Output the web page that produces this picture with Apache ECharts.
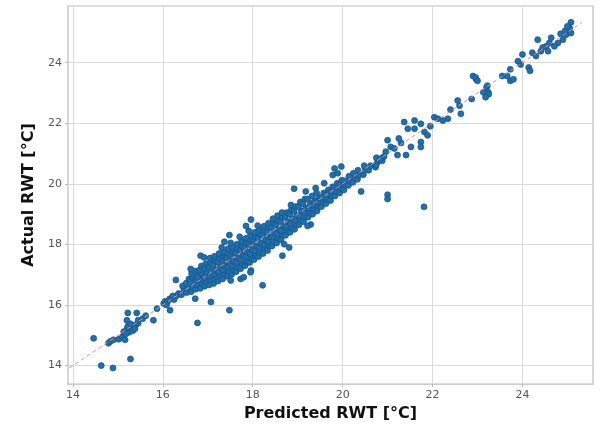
<!DOCTYPE html>
<html>
<head>
<meta charset="utf-8">
<script src="https://cdn.jsdelivr.net/npm/echarts@6/dist/echarts.min.js"></script>
<style>html,body{margin:0;padding:0;background:#fff}#c{width:604px;height:427px}</style>
</head>
<body>
<div id="c"></div>
<script>
const xTicks = [14, 16, 18, 20, 22, 24];
const yTicks = [14, 16, 18, 20, 22, 24];
const identityLine = [[13.92, 13.92], [25.33, 25.33]];

const tailLow = [
 [14.46,14.90],[14.63,14.00],[14.89,13.92],[15.28,14.22],[14.79,14.74],[14.83,14.80],[14.90,14.85],
 [15.02,14.87],[15.10,14.95],[15.16,14.85],[15.13,15.12],[15.20,15.20],[15.25,15.10],[15.30,15.25],
 [15.35,15.30],[15.40,15.35],[15.45,15.40],[15.22,15.30],[15.28,15.38],[15.18,15.05],[15.33,15.15],
 [15.38,15.22],[15.20,15.50],[15.22,15.74],[15.42,15.74],[15.45,15.50],[15.79,15.50],[15.87,15.88],
 [15.55,15.55],[15.62,15.65],[16.02,16.05],[16.05,16.12],[16.10,16.10],[16.15,16.20],[16.20,16.22],
 [16.25,16.18],[16.16,15.83],[16.30,16.30],[16.35,16.38],[16.08,16.00],[16.22,16.30],[16.40,16.35]
];

const bandCore = [
 [16.42,16.35],[16.47,16.52],[16.44,16.63],
 [16.53,16.41],[16.57,16.56],[16.52,16.72],[16.58,16.86],
 [16.63,16.44],[16.67,16.61],[16.62,16.77],[16.66,16.91],[16.64,17.04],
 [16.73,16.52],[16.77,16.66],[16.74,16.82],[16.78,16.96],[16.72,17.12],
 [16.83,16.55],[16.87,16.71],[16.84,16.86],[16.88,17.01],[16.82,17.16],[16.86,17.29],
 [16.93,16.62],[16.97,16.76],[16.94,16.91],[16.98,17.06],[16.92,17.2],[16.96,17.36],
 [17.03,16.66],[17.07,16.81],[17.04,16.96],[17.08,17.11],[17.02,17.26],[17.06,17.41],[17.05,17.55],
 [17.13,16.71],[17.17,16.86],[17.14,17.01],[17.18,17.16],[17.12,17.31],[17.16,17.46],[17.15,17.61],
 [17.23,16.79],[17.27,16.95],[17.24,17.1],[17.28,17.26],[17.22,17.41],[17.26,17.56],[17.25,17.7],
 [17.33,16.86],[17.37,17.01],[17.34,17.16],[17.38,17.31],[17.32,17.46],[17.36,17.61],[17.35,17.76],[17.31,17.9],
 [17.43,16.95],[17.47,17.1],[17.44,17.25],[17.48,17.4],[17.42,17.55],[17.46,17.7],[17.45,17.86],
 [17.53,17.01],[17.57,17.16],[17.54,17.31],[17.58,17.46],[17.52,17.61],[17.56,17.76],[17.55,17.91],[17.51,18.05],
 [17.63,17.1],[17.67,17.25],[17.64,17.4],[17.68,17.56],[17.62,17.71],[17.66,17.86],[17.65,18.01],
 [17.73,17.2],[17.77,17.35],[17.74,17.5],[17.78,17.65],[17.72,17.8],[17.76,17.95],[17.75,18.1],[17.71,18.25],
 [17.83,17.3],[17.87,17.45],[17.84,17.6],[17.88,17.75],[17.82,17.9],[17.86,18.05],[17.85,18.2],
 [17.93,17.4],[17.97,17.55],[17.94,17.7],[17.98,17.85],[17.92,18.0],[17.96,18.15],[17.95,18.3],[17.91,18.45],
 [18.03,17.5],[18.07,17.65],[18.04,17.8],[18.08,17.95],[18.02,18.1],[18.06,18.25],[18.05,18.4],
 [18.13,17.6],[18.17,17.75],[18.14,17.9],[18.18,18.05],[18.12,18.2],[18.16,18.35],[18.15,18.5],[18.11,18.62],
 [18.23,17.7],[18.27,17.85],[18.24,18.0],[18.28,18.15],[18.22,18.3],[18.26,18.45],[18.25,18.6],
 [18.33,17.8],[18.37,17.95],[18.34,18.1],[18.38,18.25],[18.32,18.4],[18.36,18.55],[18.35,18.7],
 [18.43,17.95],[18.47,18.1],[18.44,18.25],[18.48,18.4],[18.42,18.55],[18.46,18.7],[18.45,18.85],
 [18.53,18.05],[18.57,18.2],[18.54,18.35],[18.58,18.5],[18.52,18.65],[18.56,18.8],[18.55,18.95],
 [18.63,18.15],[18.67,18.3],[18.64,18.45],[18.68,18.6],[18.62,18.75],[18.66,18.9],[18.65,19.05],
 [18.73,18.3],[18.77,18.45],[18.74,18.6],[18.78,18.75],[18.72,18.9],[18.76,19.05],
 [18.83,18.4],[18.87,18.55],[18.84,18.7],[18.88,18.85],[18.82,19.0],[18.86,19.15],[18.85,19.3],
 [18.93,18.5],[18.97,18.65],[18.94,18.8],[18.98,18.95],[18.92,19.1],[18.96,19.25],
 [19.03,18.65],[19.07,18.8],[19.04,18.95],[19.08,19.1],[19.02,19.25],[19.06,19.4],
 [19.13,18.75],[19.17,18.9],[19.14,19.05],[19.18,19.2],[19.12,19.35],[19.16,19.5],
 [19.23,18.9],[19.27,19.05],[19.24,19.2],[19.28,19.35],[19.22,19.5],
 [19.33,19.0],[19.37,19.15],[19.34,19.3],[19.38,19.45],[19.32,19.6],
 [19.43,19.1],[19.47,19.25],[19.44,19.4],[19.48,19.55],[19.42,19.7],
 [19.53,19.25],[19.57,19.4],[19.54,19.55],[19.58,19.7],
 [19.63,19.35],[19.67,19.5],[19.64,19.65],[19.68,19.8],
 [19.73,19.45],[19.77,19.6],[19.74,19.75],[19.78,19.9],
 [19.83,19.6],[19.87,19.75],[19.84,19.9],[19.88,20.02],
 [19.93,19.7],[19.97,19.85],[19.94,20.0],[19.98,20.12],
 [20.03,19.8],[20.07,19.95],[20.04,20.1],
 [20.13,19.95],[20.17,20.1],[20.14,20.25],
 [20.23,20.05],[20.27,20.2],[20.24,20.35],
 [20.33,20.15],[20.37,20.3],[20.34,20.45],
 [20.46,20.3],[20.5,20.45],[20.48,20.6],
 [20.58,20.45],[20.62,20.6],
 [20.73,20.55],[20.77,20.7],[20.75,20.86],
 [20.88,20.76],[20.92,20.9]
];

const tailHigh = [
 [20.74,20.62],[20.85,20.84],[20.96,21.06],[21.07,21.22],[21.0,21.44],[21.15,21.17],[21.22,20.95],
 [21.37,22.04],[21.41,20.95],[21.45,21.82],[21.6,21.82],[21.52,21.22],[21.74,21.38],[21.74,21.22],
 [21.6,22.09],[21.74,21.98],[21.82,21.71],[21.89,21.6],[22.04,22.2],[22.12,22.15],[22.23,22.09],
 [22.34,22.15],[22.56,22.75],[22.6,22.58],[22.63,22.31],[22.87,22.8],[22.9,23.56],[22.97,23.45],
 [23.2,23.18],[23.24,23.02],[23.13,23.02],[21.3,21.35],[21.25,21.5],[21.95,21.9],[22.4,22.45],
 [25.08,25.33],[25.05,25.14],[25.08,24.98],[24.97,24.92],[24.9,24.76],[24.79,24.65],[24.71,24.54],
 [24.64,24.82],[24.53,24.54],[24.57,24.38],[24.34,24.76],[24.41,24.38],[24.22,24.33],[24.3,24.22],
 [24.0,24.27],[23.96,23.94],[24.14,23.84],[24.17,23.73],[23.73,23.78],[23.66,23.56],[23.73,23.4],
 [23.8,23.45],[23.55,23.56],[23.22,23.24],[23.25,22.96],[23.18,22.86],[22.96,23.51],[23.0,23.4],
 [24.85,24.95],[24.95,25.05],[25.0,25.2],[24.6,24.65],[24.45,24.5],[23.9,24.05]
];

const outliers = [
 [18.92,19.84],[19.18,19.75],[19.4,19.86],[19.59,20.02],[19.78,20.29],[19.89,20.35],
 [17.96,18.82],[17.85,18.61],[17.48,18.31],[17.37,18.09],[16.84,17.63],[16.92,17.57],
 [16.29,16.83],[16.62,17.19],[18.66,17.63],[18.81,17.9],[18.7,18.01],[18.22,16.65],[17.96,17.14],
 [17.73,16.86],[17.51,16.81],[19.29,18.66],[19.22,18.61],[16.77,16.92],[20.41,19.75],
 [19.82,20.51],[19.97,20.57],[21.0,19.64],[21.0,19.5],[21.81,19.24],[17.07,16.1],[17.48,15.83],
 [16.77,15.41],[16.72,16.21],[17.8,16.92],[17.95,17.08]
];

const points = tailLow.concat(bandCore, tailHigh, outliers);

const chart = echarts.init(document.getElementById('c'), null, {renderer: 'canvas'});
const tickLabel = {color: '#555', fontSize: 11, fontFamily: 'DejaVu Sans'};
chart.setOption({
  animation: false,
  backgroundColor: '#ffffff',
  grid: {left: 68, right: 11, top: 6, bottom: 39, show: true, borderColor: '#bdbdbd', borderWidth: 1.2, backgroundColor: '#fff'},
  xAxis: {
    type: 'value', min: 13.89, max: 25.57,
    name: 'Predicted RWT [°C]', nameLocation: 'middle', nameGap: 18,
    nameTextStyle: {fontFamily: 'DejaVu Sans', fontWeight: 'bold', fontSize: 16, color: '#111'},
    axisLine: {show: false},
    axisTick: {show: true, customValues: xTicks, length: 3, lineStyle: {color: '#bbb'}},
    axisLabel: Object.assign({customValues: xTicks, margin: 6}, tickLabel),
    splitLine: {show: true, lineStyle: {color: '#dadada', width: 1}}
  },
  yAxis: {
    type: 'value', min: 13.39, max: 25.87,
    name: 'Actual RWT [°C]', nameLocation: 'middle', nameGap: 21,
    nameTextStyle: {fontFamily: 'DejaVu Sans', fontWeight: 'bold', fontSize: 16, color: '#111'},
    axisLine: {show: false},
    axisTick: {show: true, customValues: yTicks, length: 3, lineStyle: {color: '#bbb'}},
    axisLabel: Object.assign({customValues: yTicks, margin: 6}, tickLabel),
    splitLine: {show: true, lineStyle: {color: '#dadada', width: 1}}
  },
  series: [
    {type: 'scatter', data: points, symbolSize: 6,
     itemStyle: {color: '#1f6fae', opacity: 1, borderColor: '#18527f', borderWidth: 0.7}, z: 2},
    {type: 'line', data: identityLine, symbol: 'none', z: 3,
     lineStyle: {color: '#ef8a9a', width: 1, type: [4, 3]}}
  ]
});
</script>
</body>
</html>
